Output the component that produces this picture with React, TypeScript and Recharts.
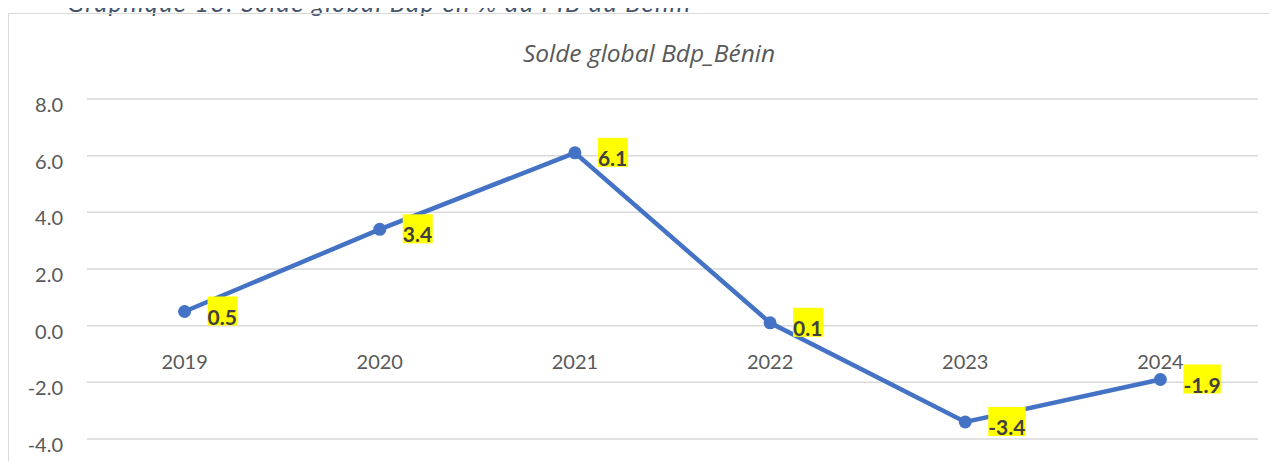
import React from 'react';
import { LineChart, Line, XAxis, YAxis, CartesianGrid, LabelList } from 'recharts';

const years = ['2019', '2020', '2021', '2022', '2023', '2024'];
const solde = [0.5, 3.4, 6.1, 0.1, -3.4, -1.9];
const baseline = [0, 0, 0, 0, 0, 0];
const yTicks = [-4, -2, 0, 2, 4, 6, 8];

const data = years.map((y, i) => ({ year: y, solde: solde[i], base: baseline[i] }));

const charW: Record<string, number> = { '-': 7.4, '.': 5.2 };
const textWidth = (s: string) =>
  s.split('').reduce((a, c) => a + (charW[c] ?? 11.4), 0);

const ValueLabel = (props: any) => {
  const { x, y, value } = props;
  if (x == null || y == null) return null;
  const s = Number(value).toFixed(1);
  const w = textWidth(s) + 2;
  return (
    <g>
      <rect x={x + 23} y={y - 15} width={w} height={29} fill="#FFFF00" />
      <text
        x={x + 23}
        y={y + 13}
        fontFamily="Lato"
        fontWeight={700}
        fontSize={21}
        fill="#404040"
      >
        {s}
      </text>
    </g>
  );
};

const YearLabel = (props: any) => {
  const { x, y, index } = props;
  if (x == null || y == null) return null;
  return (
    <text
      x={x}
      y={y + 43}
      textAnchor="middle"
      fontFamily="Lato"
      fontSize={20}
      fill="#595959"
    >
      {years[index]}
    </text>
  );
};

const YTick = (props: any) => {
  const { x, y, payload } = props;
  return (
    <text
      x={x}
      y={y + 13}
      textAnchor="end"
      fontFamily="Lato"
      fontSize={20}
      fill="#595959"
    >
      {Number(payload.value).toFixed(1)}
    </text>
  );
};

export default function App() {
  return (
    <div style={{ position: 'relative', width: 1269, height: 453, overflow: 'hidden' }}>
      <div
        style={{
          position: 'absolute',
          left: 59,
          top: -18,
          fontFamily: 'Lato',
          fontStyle: 'italic',
          fontSize: 25,
          lineHeight: '24px',
          color: '#44546A',
          whiteSpace: 'nowrap',
          letterSpacing: 1.4,
        }}
      >
        Graphique 13: Solde global Bdp en % du PIB du Bénin
      </div>
      <div
        style={{
          position: 'absolute',
          left: 0,
          top: 5,
          width: 1300,
          height: 600,
          border: '1px solid #d9d9d9',
          boxSizing: 'border-box',
        }}
      />
      <div
        style={{
          position: 'absolute',
          left: 0,
          top: 31,
          width: 1282,
          textAlign: 'center',
          fontFamily: 'Open Sans',
          fontStyle: 'italic',
          fontSize: 24.5,
          lineHeight: '28px',
          color: '#595959',
        }}
      >
        Solde global Bdp_Bénin
      </div>
      <div style={{ position: 'absolute', left: 1, top: 6 }}>
        <LineChart
          width={1268}
          height={447}
          data={data}
          margin={{ top: 85, right: 19, bottom: 22, left: 0 }}
        >
          <CartesianGrid vertical={false} stroke="#d9d9d9" strokeWidth={1.5} />
          <XAxis dataKey="year" scale="band" hide />
          <YAxis
            domain={[-4, 8]}
            ticks={yTicks}
            width={78}
            tickLine={false}
            axisLine={false}
            tickMargin={18}
            tick={<YTick />}
            interval={0}
          />
          <Line
            dataKey="base"
            stroke="none"
            dot={false}
            activeDot={false}
            isAnimationActive={false}
          >
            <LabelList dataKey="base" content={<YearLabel />} />
          </Line>
          <Line
            dataKey="solde"
            stroke="#4472C4"
            strokeWidth={4.5}
            dot={{ r: 6.5, fill: '#4472C4', stroke: '#4472C4', strokeWidth: 0 }}
            activeDot={false}
            isAnimationActive={false}
          >
            <LabelList dataKey="solde" content={<ValueLabel />} />
          </Line>
        </LineChart>
      </div>
    </div>
  );
}
